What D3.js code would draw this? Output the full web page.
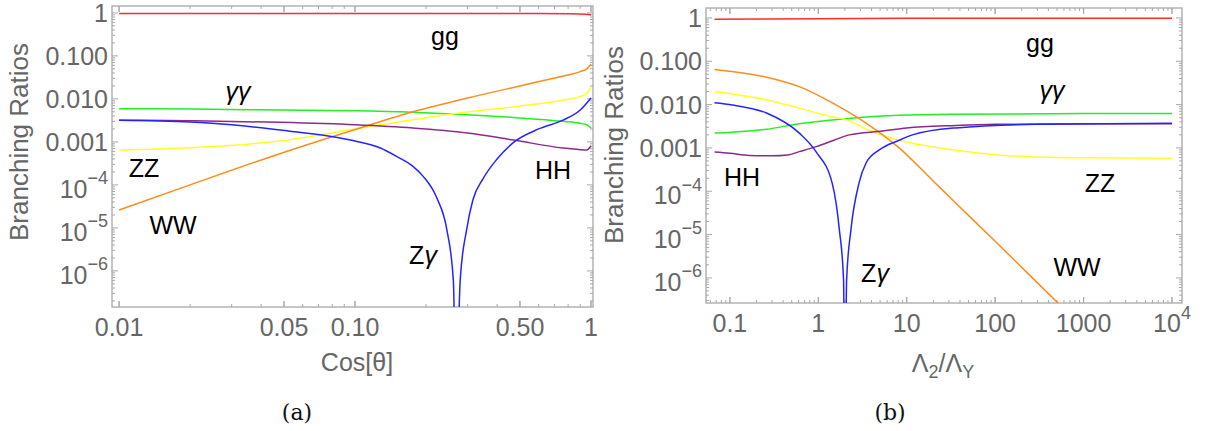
<!DOCTYPE html>
<html><head><meta charset="utf-8">
<script src="https://cdn.jsdelivr.net/npm/d3@7"></script>
<style>
body{margin:0;background:#fff;}
svg{display:block;font-family:"Liberation Sans",Arial,sans-serif;}
</style></head>
<body><svg id="c" width="1205" height="431"></svg>
<script>
// ---------- Panel (a): x = Cos[theta] ----------
const a_gg_x = [0.01, 0.1, 0.5, 0.8, 0.95, 1];
const a_gg_y = [0.97, 0.97, 0.965, 0.95, 0.93, 0.9];
const a_aa_x = [0.01, 0.02, 0.048, 0.1, 0.176, 0.3, 0.47, 0.76, 0.9, 0.96, 1];
const a_aa_y = [0.0059, 0.0058, 0.0055, 0.0053, 0.0049, 0.0043, 0.0037, 0.003, 0.0027, 0.0025, 0.0021];
const a_zz_x = [0.01, 0.02, 0.048, 0.105, 0.245, 0.5, 0.65, 0.8, 0.9, 0.96, 1];
const a_zz_y = [6.5e-4, 7.3e-4, 1.05e-3, 2.1e-3, 4.3e-3, 6.8e-3, 8.1e-3, 9.8e-3, 1.13e-2, 1.35e-2, 1.9e-2];
const a_ww_x = [0.01, 0.02, 0.048, 0.105, 0.176, 0.3, 0.5, 0.65, 0.8, 0.9, 0.96, 1];
const a_ww_y = [2.6e-5, 1.0e-4, 5.3e-4, 2.1e-3, 5e-3, 1.05e-2, 2.0e-2, 2.8e-2, 3.6e-2, 4.3e-2, 5.0e-2, 6.5e-2];
const a_hh_x = [0.01, 0.02, 0.048, 0.1, 0.176, 0.3, 0.47, 0.76, 0.9, 0.96, 1];
const a_hh_y = [3.2e-3, 3.1e-3, 2.85e-3, 2.5e-3, 2.1e-3, 1.6e-3, 1.1e-3, 7.2e-4, 6.6e-4, 6.5e-4, 8e-4];
const a_za_x = [0.01, 0.02, 0.03, 0.052, 0.078, 0.1, 0.128, 0.15, 0.176, 0.194, 0.222, 0.245, 0.261, 0.268, 0.279, 0.297, 0.316, 0.349, 0.4, 0.467, 0.6, 0.761, 0.9, 1];
const a_za_y = [3.2e-3, 2.9e-3, 2.5e-3, 1.8e-3, 1.35e-3, 1.05e-3, 7.2e-4, 4.6e-4, 2.7e-4, 1.6e-4, 5e-5, 9e-6, 6e-7, 1e-9, 6e-7, 9e-6, 4.5e-5, 1.4e-4, 4e-4, 9.5e-4, 2e-3, 3.2e-3, 5.5e-3, 1.05e-2];
const a_xticks = [0.01, 0.05, 0.1, 0.5, 1];
const a_xlabels = ["0.01", "0.05", "0.10", "0.50", "1"];

// ---------- Panel (b): x = Lambda2/LambdaY ----------
const b_gg_x = [0.067, 1, 10, 100, 1000, 10000];
const b_gg_y = [0.93, 0.96, 0.98, 0.99, 0.99, 0.99];
const b_aa_x = [0.067, 0.107, 0.26, 0.61, 1.44, 3.5, 8.2, 36, 1000, 10000];
const b_aa_y = [0.0022, 0.0023, 0.0027, 0.0036, 0.0044, 0.0052, 0.0057, 0.006, 0.0062, 0.0062];
const b_zz_x = [0.067, 0.107, 0.26, 0.61, 1.44, 2.07, 3.5, 8.2, 20, 36, 100, 290, 1000, 10000];
const b_zz_y = [0.020, 0.0176, 0.013, 0.0083, 0.0052, 0.0045, 0.0027, 0.0015, 1.05e-3, 8.9e-4, 7e-4, 6.2e-4, 5.9e-4, 5.8e-4];
const b_ww_x = [0.067, 0.107, 0.26, 0.61, 1.44, 3.5, 8.2, 19.5, 36, 100, 527, 1000];
const b_ww_y = [0.065, 0.058, 0.043, 0.026, 0.011, 0.0037, 1.0e-3, 1.8e-4, 5.3e-5, 7e-6, 2.5e-7, 7e-8];
const b_hh_x = [0.067, 0.1, 0.166, 0.3, 0.45, 0.61, 0.95, 1.5, 2.24, 5.3, 10, 36, 100, 1000, 10000];
const b_hh_y = [8e-4, 7.5e-4, 6.7e-4, 6.6e-4, 6.9e-4, 8.2e-4, 1.07e-3, 1.5e-3, 2e-3, 2.45e-3, 2.9e-3, 3.3e-3, 3.5e-3, 3.6e-3, 3.6e-3];
const b_za_x = [0.067, 0.107, 0.26, 0.61, 0.95, 1.44, 1.73, 1.93, 2.0, 2.09, 2.34, 2.9, 3.49, 4.89, 8.2, 11.6, 36, 290, 10000];
const b_za_y = [0.011, 0.0098, 0.0064, 0.0022, 8e-4, 1.5e-4, 1.3e-5, 9e-7, 1e-9, 9e-7, 1.3e-5, 1.6e-4, 4.6e-4, 9e-4, 1.5e-3, 2e-3, 2.9e-3, 3.5e-3, 3.7e-3];
const b_xticks = [0.1, 1, 10, 100, 1000, 10000];
const b_xlabels = ["0.1", "1", "10", "100", "1000", "10^4"];

const yticks = [1, 0.1, 0.01, 0.001, 1e-4, 1e-5, 1e-6];
const ylabels = ["1", "0.100", "0.010", "0.001", "10^−4", "10^−5", "10^−6"];

const colors = {gg:"#ff2b2b", aa:"#22ee22", zz:"#ffff22", ww:"#ff8c1a", hh:"#8b2a8b", za:"#2424ff"};

const svg = d3.select("#c");
const FRAME = "#a8a8a8", TXT = "#666";

function label(g, txt, x, y, opts){
  const t = g.append("text").attr("x", x).attr("y", y)
    .attr("fill", opts.fill||TXT).attr("font-size", opts.size||25)
    .attr("text-anchor", opts.anchor||"middle");
  const parts = txt.split("^");
  t.append("tspan").text(parts[0]);
  if (parts.length>1) t.append("tspan").attr("font-size", (opts.size||25)*0.72).attr("dy", "-0.75em").text(parts[1]);
  return t;
}

function panel(cfg){
  const x = d3.scaleLog().domain(cfg.xdom).range([cfg.left, cfg.right]);
  const y = d3.scaleLog().domain(cfg.ydom).range([cfg.bottom, cfg.top]);
  const g = svg.append("g");
  const cid = "clip" + cfg.id;
  svg.append("clipPath").attr("id", cid).append("rect")
    .attr("x", cfg.left).attr("y", cfg.top).attr("width", cfg.right-cfg.left).attr("height", cfg.bottom-cfg.top);

  g.append("rect").attr("x", cfg.left).attr("y", cfg.top).attr("width", cfg.right-cfg.left)
    .attr("height", cfg.bottom-cfg.top).attr("fill", "none").attr("stroke", FRAME).attr("stroke-width", 1.3);

  const ymin = y.ticks().filter(v => v >= cfg.ydom[0] && v <= cfg.ydom[1]);
  const xmin = x.ticks().filter(v => v >= cfg.xdom[0] && v <= cfg.xdom[1]);
  const isMaj = (arr, v) => arr.some(t => Math.abs(Math.log10(t) - Math.log10(v)) < 1e-6);
  const tk = g.append("g").attr("stroke", FRAME).attr("stroke-width", 1);
  ymin.forEach(v => {
    const L = isMaj(yticks, v) ? 6 : 3, yy = y(v);
    tk.append("line").attr("x1", cfg.left).attr("x2", cfg.left+L).attr("y1", yy).attr("y2", yy);
    tk.append("line").attr("x1", cfg.right).attr("x2", cfg.right-L).attr("y1", yy).attr("y2", yy);
  });
  xmin.forEach(v => {
    const L = isMaj(cfg.xticks, v) ? 6 : 3, xx = x(v);
    tk.append("line").attr("y1", cfg.bottom).attr("y2", cfg.bottom-L).attr("x1", xx).attr("x2", xx);
    tk.append("line").attr("y1", cfg.top).attr("y2", cfg.top+L).attr("x1", xx).attr("x2", xx);
  });
  cfg.xticks.forEach(v => {
    const xx = x(v);
    tk.append("line").attr("y1", cfg.bottom).attr("y2", cfg.bottom-6).attr("x1", xx).attr("x2", xx);
    tk.append("line").attr("y1", cfg.top).attr("y2", cfg.top+6).attr("x1", xx).attr("x2", xx);
  });

  yticks.forEach((v,i) => {
    const up = ylabels[i].includes("^");
    label(g, ylabels[i], cfg.left-4, y(v) + (up ? 13 : 9), {anchor:"end"});
  });
  cfg.xticks.forEach((v,i) => label(g, cfg.xlabels[i], x(v), cfg.bottom+29, {}));

  g.append("text").attr("transform", `translate(${cfg.ylabX},${cfg.ylabY}) rotate(-90)`)
    .attr("text-anchor","middle").attr("fill", TXT).attr("font-size", 26).text("Branching Ratios");

  const line = d3.line().x(d => x(d[0])).y(d => y(Math.max(d[1], 1e-12))).curve(d3.curveMonotoneX);
  const cg = g.append("g").attr("clip-path", `url(#${cid})`);
  cfg.series.forEach(s => {
    const pts = s.x.map((v,i) => [v, s.y[i]]);
    cg.append("path").attr("d", line(pts)).attr("fill","none")
      .attr("stroke", colors[s.key]).attr("stroke-width", 1.5);
  });

  cfg.names.forEach(n => {
    const t = g.append("text").attr("x", n.x).attr("y", n.y).attr("text-anchor","middle")
      .attr("font-size", 25).attr("fill", "#000");
    if (n.t === "γγ") t.append("tspan").attr("font-style","italic").text("γγ");
    else if (n.t === "Zγ") { t.append("tspan").text("Z"); t.append("tspan").attr("font-style","italic").text("γ"); }
    else t.text(n.t);
  });
  return {x, y, g};
}

const A = panel({
  id:"a", left:112, right:593, top:6, bottom:307,
  xdom:[Math.pow(10,-2.03), Math.pow(10,0.0085)],
  ydom:[Math.pow(10,-6.84), Math.pow(10,0.16)],
  xticks:a_xticks, xlabels:a_xlabels, ylabX:28, ylabY:142,
  series:[
    {key:"gg", x:a_gg_x, y:a_gg_y},
    {key:"aa", x:a_aa_x, y:a_aa_y},
    {key:"zz", x:a_zz_x, y:a_zz_y},
    {key:"ww", x:a_ww_x, y:a_ww_y},
    {key:"hh", x:a_hh_x, y:a_hh_y},
    {key:"za", x:a_za_x, y:a_za_y}],
  names:[{t:"gg",x:445,y:45},{t:"γγ",x:238,y:100},{t:"ZZ",x:144,y:177},{t:"WW",x:173,y:234},{t:"HH",x:553,y:179},{t:"Zγ",x:423,y:264}]
});
A.g.append("text").attr("x", 357).attr("y", 371).attr("text-anchor","middle").attr("fill",TXT)
  .attr("font-size", 25).text("Cos[θ]");

const B = panel({
  id:"b", left:706, right:1182, top:8, bottom:303,
  xdom:[Math.pow(10,-1.27), Math.pow(10,4.113)],
  ydom:[Math.pow(10,-6.58), Math.pow(10,0.23)],
  xticks:b_xticks, xlabels:b_xlabels, ylabX:623, ylabY:145,
  series:[
    {key:"gg", x:b_gg_x, y:b_gg_y},
    {key:"aa", x:b_aa_x, y:b_aa_y},
    {key:"zz", x:b_zz_x, y:b_zz_y},
    {key:"ww", x:b_ww_x, y:b_ww_y},
    {key:"hh", x:b_hh_x, y:b_hh_y},
    {key:"za", x:b_za_x, y:b_za_y}],
  names:[{t:"gg",x:1040,y:52},{t:"γγ",x:1052,y:99},{t:"ZZ",x:1100,y:192},{t:"WW",x:1077,y:276},{t:"HH",x:742,y:186},{t:"Zγ",x:875,y:282}]
});
{
  const t = B.g.append("text").attr("x", 943).attr("y", 372).attr("text-anchor","middle")
    .attr("fill",TXT).attr("font-size", 25);
  t.append("tspan").text("Λ");
  t.append("tspan").attr("font-size", 18).attr("dy", 6).text("2");
  t.append("tspan").attr("dy", -6).text("/Λ");
  t.append("tspan").attr("font-size", 18).attr("dy", 6).text("Y");
}

svg.append("text").attr("x", 297).attr("y", 420).attr("text-anchor","middle")
  .attr("font-family","'DejaVu Serif','Liberation Serif',serif").attr("font-size", 22).attr("fill","#111").text("(a)");
svg.append("text").attr("x", 890).attr("y", 420).attr("text-anchor","middle")
  .attr("font-family","'DejaVu Serif','Liberation Serif',serif").attr("font-size", 22).attr("fill","#111").text("(b)");
</script></body></html>
